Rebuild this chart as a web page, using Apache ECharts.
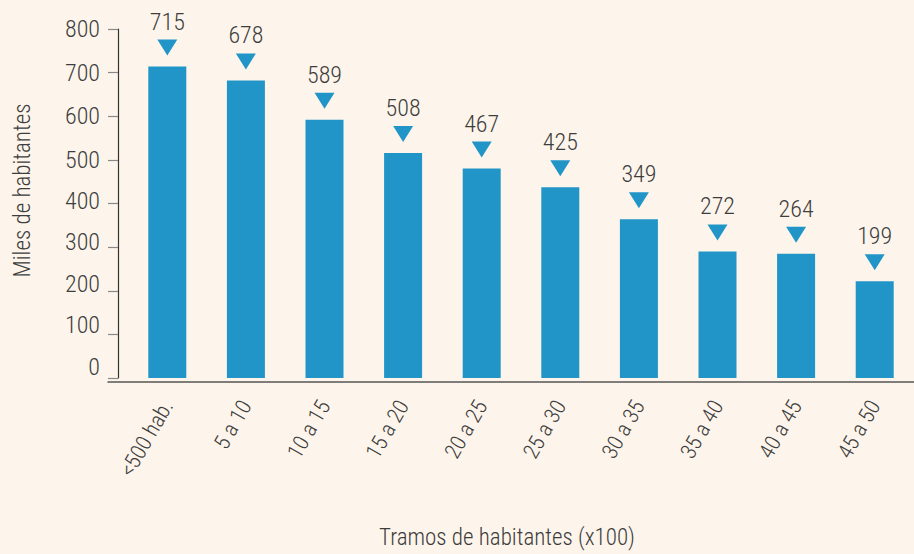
<!DOCTYPE html>
<html><head><meta charset="utf-8">
<script src="https://cdn.jsdelivr.net/npm/echarts@6/dist/echarts.min.js"></script>
<style>html,body{margin:0;padding:0;background:#fdf5eb}#c{width:914px;height:554px}
#c svg text{font-stretch:75% !important;}</style>
</head><body><div id="c"></div>
<script>
const categories = ['<500 hab.', '5 a 10', '10 a 15', '15 a 20', '20 a 25', '25 a 30', '30 a 35', '35 a 40', '40 a 45', '45 a 50'];
const barValues = [714, 682, 592, 516, 480, 437, 364, 290, 285, 222];
const labelValues = [715, 678, 589, 508, 467, 425, 349, 272, 264, 199];
const yTicks = [0, 100, 200, 300, 400, 500, 600, 700, 800];

const FONT = 'Roboto, sans-serif';
const TXT = '#3d3d3d';
const BLUE = '#2195c7';

// the original's lower tick labels sit slightly above their ticks
const yLabelLift = v => v >= 500 ? 0 : Math.round((500 - v) / 100 * 2.1 + 0.5);
const yRich = {};
for (let k = 0; k <= 12; k++) {
  yRich['l' + k] = {fontFamily: FONT, fontWeight: 300, fontSize: 24, color: TXT, padding: [0, 0, 2 * k, 0]};
}

const chart = echarts.init(document.getElementById('c'), null, {renderer: 'svg'});
chart.setOption({
  backgroundColor: '#fdf5eb',
  animation: false,
  grid: [
    {left: 128, width: 792, top: 29, bottom: 172, containLabel: false},
    {left: 108, width: 812, top: 29, bottom: 172, containLabel: false}
  ],
  xAxis: [{
    type: 'category', data: categories, gridIndex: 0,
    axisLine: {show: false},
    axisTick: {show: false},
    axisLabel: {rotate: 60, margin: 24, fontFamily: FONT, fontWeight: 300, fontSize: 22, color: TXT},
    name: 'Tramos de habitantes (x100)',
    nameLocation: 'middle', nameGap: 148,
    nameTextStyle: {fontFamily: FONT, fontWeight: 300, fontSize: 23, color: TXT, padding: [0, 28, 0, 0]}
  }, {
    type: 'value', gridIndex: 1, min: 0, max: 1,
    axisLine: {show: true, lineStyle: {color: '#555', width: 1.5}},
    axisTick: {show: false}, axisLabel: {show: false}, splitLine: {show: false}
  }],
  yAxis: [{
    type: 'value', gridIndex: 0, min: yTicks[0], max: yTicks[yTicks.length - 1], interval: 100,
    offset: 10,
    axisLine: {show: true, lineStyle: {color: '#333', width: 1.2}},
    axisTick: {show: true, length: 10, lineStyle: {color: '#888', width: 1.2}},
    axisLabel: {
      margin: 18, fontFamily: FONT, fontWeight: 300, fontSize: 24, color: TXT,
      formatter: v => '{l' + yLabelLift(v) + '|' + v + '}',
      rich: yRich
    },
    splitLine: {show: false},
    name: 'Miles de habitantes', nameLocation: 'middle', nameGap: 84,
    nameTextStyle: {fontFamily: FONT, fontWeight: 300, fontSize: 23, color: TXT, padding: [0, 0, 0, 26]}
  }, {
    type: 'value', gridIndex: 1, show: false
  }],
  series: [{
    type: 'bar', xAxisIndex: 0, yAxisIndex: 0,
    data: barValues, barWidth: 38,
    itemStyle: {color: BLUE},
    label: {
      show: true, position: 'top', distance: 33,
      formatter: p => String(labelValues[p.dataIndex]),
      fontFamily: FONT, fontWeight: 300, fontSize: 24, color: TXT
    }
  }, {
    type: 'scatter', xAxisIndex: 0, yAxisIndex: 0,
    data: barValues,
    symbol: 'path://M0,0L20,0L10,16Z', symbolSize: [20, 16], symbolOffset: [0, -19],
    itemStyle: {color: BLUE, opacity: 1}, z: 5
  }]
});
</script></body></html>
